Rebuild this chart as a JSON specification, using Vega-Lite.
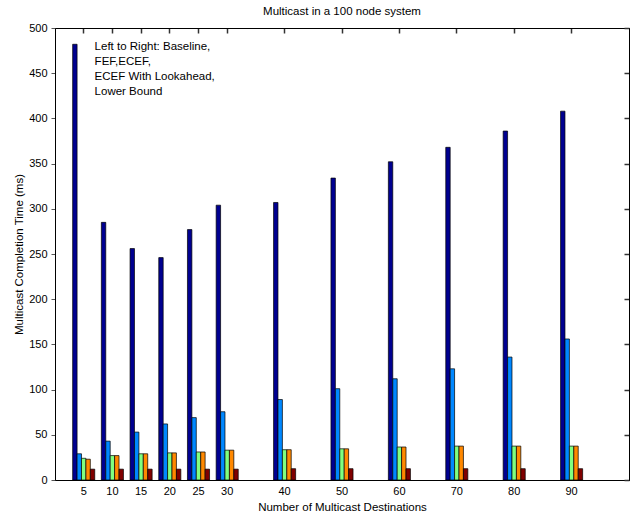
{
  "$schema": "https://vega.github.io/schema/vega-lite/v6.json",
  "width": 574,
  "height": 452,
  "autosize": {"type": "none"},
  "padding": {"left": 55, "top": 28, "right": 8, "bottom": 34},
  "background": "white",
  "config": {
    "view": {"stroke": "black", "strokeWidth": 1},
    "font": "Liberation Sans",
    "axis": {
      "grid": false,
      "domainColor": "black",
      "domainWidth": 1,
      "tickColor": "black",
      "tickWidth": 1,
      "tickSize": -5,
      "labelColor": "black",
      "labelFontSize": 11,
      "labelFont": "Liberation Sans",
      "titleColor": "black",
      "titleFontSize": 11.5,
      "titleFont": "Liberation Sans",
      "titleFontWeight": "normal"
    }
  },
  "title": {
    "text": "Multicast in a 100 node system",
    "fontSize": 11.5,
    "fontWeight": "normal",
    "font": "Liberation Sans",
    "color": "black",
    "offset": 5
  },
  "datasets": {
    "times": [
      {"dest": 5, "method": "Baseline", "time": 482},
      {"dest": 10, "method": "Baseline", "time": 285},
      {"dest": 15, "method": "Baseline", "time": 256},
      {"dest": 20, "method": "Baseline", "time": 246},
      {"dest": 25, "method": "Baseline", "time": 277},
      {"dest": 30, "method": "Baseline", "time": 304},
      {"dest": 40, "method": "Baseline", "time": 307},
      {"dest": 50, "method": "Baseline", "time": 334},
      {"dest": 60, "method": "Baseline", "time": 352},
      {"dest": 70, "method": "Baseline", "time": 368},
      {"dest": 80, "method": "Baseline", "time": 386},
      {"dest": 90, "method": "Baseline", "time": 408},
      {"dest": 5, "method": "FEF", "time": 29},
      {"dest": 10, "method": "FEF", "time": 43},
      {"dest": 15, "method": "FEF", "time": 53},
      {"dest": 20, "method": "FEF", "time": 62},
      {"dest": 25, "method": "FEF", "time": 69},
      {"dest": 30, "method": "FEF", "time": 75.5},
      {"dest": 40, "method": "FEF", "time": 89},
      {"dest": 50, "method": "FEF", "time": 101},
      {"dest": 60, "method": "FEF", "time": 112},
      {"dest": 70, "method": "FEF", "time": 123},
      {"dest": 80, "method": "FEF", "time": 136},
      {"dest": 90, "method": "FEF", "time": 156},
      {"dest": 5, "method": "ECEF", "time": 24},
      {"dest": 10, "method": "ECEF", "time": 27},
      {"dest": 15, "method": "ECEF", "time": 29},
      {"dest": 20, "method": "ECEF", "time": 30},
      {"dest": 25, "method": "ECEF", "time": 31},
      {"dest": 30, "method": "ECEF", "time": 33},
      {"dest": 40, "method": "ECEF", "time": 33.5},
      {"dest": 50, "method": "ECEF", "time": 34.5},
      {"dest": 60, "method": "ECEF", "time": 36.5},
      {"dest": 70, "method": "ECEF", "time": 37.5},
      {"dest": 80, "method": "ECEF", "time": 37.5},
      {"dest": 90, "method": "ECEF", "time": 37.5},
      {"dest": 5, "method": "ECEF With Lookahead", "time": 23},
      {"dest": 10, "method": "ECEF With Lookahead", "time": 27},
      {"dest": 15, "method": "ECEF With Lookahead", "time": 29},
      {"dest": 20, "method": "ECEF With Lookahead", "time": 30},
      {"dest": 25, "method": "ECEF With Lookahead", "time": 31},
      {"dest": 30, "method": "ECEF With Lookahead", "time": 33},
      {"dest": 40, "method": "ECEF With Lookahead", "time": 33.5},
      {"dest": 50, "method": "ECEF With Lookahead", "time": 34.5},
      {"dest": 60, "method": "ECEF With Lookahead", "time": 36.5},
      {"dest": 70, "method": "ECEF With Lookahead", "time": 37.5},
      {"dest": 80, "method": "ECEF With Lookahead", "time": 37.5},
      {"dest": 90, "method": "ECEF With Lookahead", "time": 37.5},
      {"dest": 5, "method": "Lower Bound", "time": 12},
      {"dest": 10, "method": "Lower Bound", "time": 12},
      {"dest": 15, "method": "Lower Bound", "time": 12},
      {"dest": 20, "method": "Lower Bound", "time": 12},
      {"dest": 25, "method": "Lower Bound", "time": 12},
      {"dest": 30, "method": "Lower Bound", "time": 12},
      {"dest": 40, "method": "Lower Bound", "time": 12.5},
      {"dest": 50, "method": "Lower Bound", "time": 12.5},
      {"dest": 60, "method": "Lower Bound", "time": 12.5},
      {"dest": 70, "method": "Lower Bound", "time": 12.5},
      {"dest": 80, "method": "Lower Bound", "time": 12.5},
      {"dest": 90, "method": "Lower Bound", "time": 12.5}
    ],
    "note": [
      {"px": 6.9, "time": 486, "label": "Left to Right: Baseline,\nFEF,ECEF,\nECEF With Lookahead,\nLower Bound"}
    ]
  },
  "layer": [
    {
      "data": {"name": "times"},
      "mark": {"type": "bar", "stroke": "black", "strokeWidth": 0.7},
      "encoding": {
        "x": {
          "field": "dest",
          "type": "ordinal",
          "scale": {
            "domain": [5, 10, 15, 20, 25, 30, 35, 40, 45, 50, 55, 60, 65, 70, 75, 80, 85, 90, 95],
            "paddingInner": 0.231,
            "paddingOuter": 0.6155
          },
          "axis": {
            "values": [5, 10, 15, 20, 25, 30, 40, 50, 60, 70, 80, 90],
            "labelAngle": 0,
            "labelPadding": 10,
            "title": "Number of Multicast Destinations",
            "titlePadding": 5
          }
        },
        "xOffset": {
          "field": "method",
          "type": "nominal",
          "scale": {
            "domain": ["Baseline", "FEF", "ECEF", "ECEF With Lookahead", "Lower Bound"],
            "paddingInner": 0,
            "paddingOuter": 0
          }
        },
        "y": {
          "field": "time",
          "type": "quantitative",
          "scale": {"domain": [0, 500], "nice": false},
          "axis": {
            "values": [0, 50, 100, 150, 200, 250, 300, 350, 400, 450, 500],
            "tickSize": 4,
            "tickColor": "#555555",
            "labelPadding": 4,
            "title": "Multicast Completion Time (ms)",
            "titlePadding": 4
          }
        },
        "color": {
          "field": "method",
          "type": "nominal",
          "scale": {
            "domain": ["Baseline", "FEF", "ECEF", "ECEF With Lookahead", "Lower Bound"],
            "range": ["#000090", "#0088FF", "#80FF80", "#FF8800", "#800000"]
          },
          "legend": null
        }
      }
    },
    {
      "data": {"name": "times"},
      "mark": {"type": "tick", "opacity": 0},
      "encoding": {
        "x": {
          "field": "dest",
          "type": "ordinal",
          "scale": {
            "domain": [5, 10, 15, 20, 25, 30, 35, 40, 45, 50, 55, 60, 65, 70, 75, 80, 85, 90, 95],
            "paddingInner": 0.231,
            "paddingOuter": 0.6155
          },
          "axis": {
            "orient": "top",
            "values": [5, 10, 15, 20, 25, 30, 40, 50, 60, 70, 80, 90],
            "labels": false,
            "domain": true,
            "ticks": true,
            "tickSize": -5,
            "tickWidth": 1.5,
            "tickColor": "#333333",
            "title": null
          }
        },
        "y": {
          "field": "time",
          "type": "quantitative",
          "scale": {"domain": [0, 500], "nice": false},
          "axis": {
            "orient": "right",
            "values": [0, 50, 100, 150, 200, 250, 300, 350, 400, 450, 500],
            "labels": false,
            "domain": true,
            "ticks": true,
            "tickSize": -5,
            "tickWidth": 1.5,
            "tickColor": "#333333",
            "title": null
          }
        }
      }
    },
    {
      "data": {"name": "note"},
      "mark": {
        "type": "text",
        "align": "left",
        "baseline": "top",
        "lineBreak": "\n",
        "lineHeight": 15,
        "fontSize": 11.5,
        "font": "Liberation Sans",
        "color": "black"
      },
      "encoding": {
        "x": {"field": "px", "type": "quantitative", "scale": {"domain": [0, 100], "nice": false}, "axis": null},
        "y": {"field": "time", "type": "quantitative", "scale": {"domain": [0, 500], "nice": false}, "axis": null},
        "text": {"field": "label"}
      }
    }
  ],
  "resolve": {
    "scale": {"x": "independent", "y": "independent"},
    "axis": {"x": "independent", "y": "independent"}
  }
}
